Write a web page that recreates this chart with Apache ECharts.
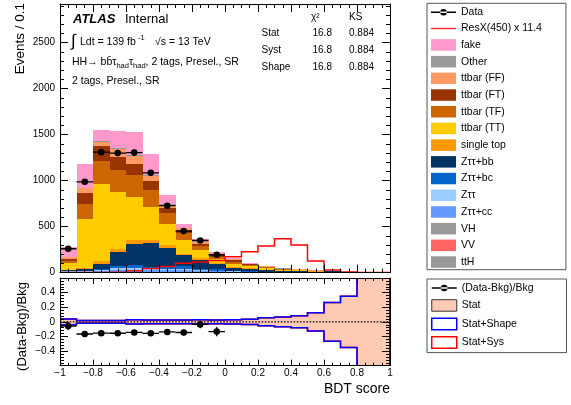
<!DOCTYPE html>
<html>
<head>
<meta charset="utf-8">
<title>BDT score</title>
<script src="https://cdn.jsdelivr.net/npm/echarts@6/dist/echarts.min.js"></script>
<style>
  html, body { margin: 0; padding: 0; background: #fff; }
  #chart { width: 571px; height: 405px; }
</style>
</head>
<body>
<div id="chart"></div>
<script>
// Histogram binning of the BDT score
const binEdges = [-1.0, -0.9, -0.8, -0.7, -0.6, -0.5, -0.4, -0.3, -0.2, -0.1, 0.0,
                  0.1, 0.2, 0.3, 0.4, 0.5, 0.6, 0.7, 0.8, 0.9, 1.0];

// Background yields per bin (events / 0.1)
const fake      = [103, 261, 119, 188, 247, 225, 102, 40, 26, 22, 8, 5, 4, 2, 1.5, 0.7, 0.1, 0, 0, 0];
const other     = [3, 6, 7, 7, 7, 7, 5, 4, 3, 3, 2, 1, 1, 1, 0.5, 0.3, 0.1, 0, 0, 0];
const ttbarFF   = [25, 55, 48, 84, 94, 58, 38, 21, 19, 10, 12, 6, 5, 3, 2, 1, 0.3, 0, 0, 0];
const ttbarFT   = [23, 120, 163, 145, 116, 98, 55, 36, 25, 20, 14, 8, 5, 4, 2, 1, 0.5, 0, 0, 0];
const ttbarTF   = [20, 159, 253, 236, 236, 182, 119, 73, 43, 21, 22, 12, 8, 5, 3, 2, 1, 0.1, 0.1, 0];
const ttbarTT   = [69, 530, 834, 622, 471, 362, 225, 152, 91, 40, 36, 24, 16, 11, 10, 6, 1, 0.3, 0.1, 0.1];
const singleTop = [6, 16, 36, 36, 43, 35, 29, 14, 18, 11, 7, 8, 6, 4, 3, 2, 1, 0.2, 0.1, 0.1];
const zttBB     = [5, 16, 54, 146, 228, 255, 207, 119, 93, 61, 33, 20, 16, 10, 9, 9, 12, 2.0, 0.6, 0.4];
const zttBC     = [7.5, 7.7, 13, 26.4, 29.6, 23, 23, 24.5, 16, 13.1, 7.8, 6.2, 4.3, 2.7, 2.1, 0.9, 1.4, 0.2, 0.1, 0.1];
const ztt       = [5.5, 5.5, 9.3, 19, 21, 16, 16, 17.5, 11, 9.3, 5.5, 4.5, 3, 2, 1.5, 0.8, 1, 0.1, 0.1, 0];
const zttCC     = [6.6, 6.6, 11, 23, 25, 19.5, 19.5, 21, 13.5, 11, 6.6, 5.4, 3.6, 2.4, 1.8, 0.9, 1.2, 0.2, 0.1, 0.1];
const vh        = [0.4, 0.4, 0.7, 1.5, 1.7, 1.3, 1.3, 1.4, 0.9, 0.7, 0.4, 0.4, 0.2, 0.2, 0.1, 0.1, 0.1, 0, 0, 0];
const vv        = [1.5, 1.3, 2.2, 4.6, 5.0, 3.9, 3.9, 4.2, 2.7, 2.2, 1.3, 1.1, 0.7, 0.5, 0.4, 0.2, 0.2, 0, 0, 0];
const ttH       = [0.5, 0.5, 0.8, 1.5, 1.7, 1.3, 1.3, 1.4, 0.9, 0.7, 0.4, 0.4, 0.2, 0.2, 0.1, 0.1, 0.1, 0, 0, 0];

// Observed data (bins above 0 are blinded)
const dataCounts = [260, 988, 1310, 1300, 1305, 1085, 728, 452, 350, 195];

// Signal ResX(450), scaled by 11.4
const signal = [2, 2, 3, 5, 20, 45, 68, 102, 116, 132, 174, 228, 290, 370, 301, 127, 29, 8, 3, 2];

// Relative uncertainty bands for the ratio panel
const statErr      = [0.04, 0.02, 0.018, 0.018, 0.03, 0.025, 0.025, 0.025, 0.03, 0.025, 0.03, 0.035, 0.055, 0.068, 0.082, 0.125, 0.265, 0.35, 0.9, 1.2];
const statShapeErr = [0.04, 0.02, 0.018, 0.018, 0.03, 0.025, 0.025, 0.025, 0.03, 0.025, 0.03, 0.035, 0.055, 0.068, 0.082, 0.125, 0.265, 0.35, 0.9, 1.2];
const statSysErr   = [0.04, 0.02, 0.018, 0.018, 0.03, 0.025, 0.025, 0.025, 0.03, 0.025, 0.03, 0.035, 0.055, 0.068, 0.082, 0.125, 0.265, 0.35, 0.9, 1.2];

// Stack order, bottom to top
const stackLayers = [
  ['ttH', ttH], ['VV', vv], ['VH', vh], ['Zττ+cc', zttCC], ['Zττ', ztt], ['Zττ+bc', zttBC],
  ['Zττ+bb', zttBB], ['single top', singleTop], ['ttbar (TT)', ttbarTT], ['ttbar (TF)', ttbarTF],
  ['ttbar (FT)', ttbarFT], ['ttbar (FF)', ttbarFF], ['Other', other], ['fake', fake]
];
const legendOrder = ['fake', 'Other', 'ttbar (FF)', 'ttbar (FT)', 'ttbar (TF)', 'ttbar (TT)', 'single top',
  'Zττ+bb', 'Zττ+bc', 'Zττ', 'Zττ+cc', 'VH', 'VV', 'ttH'];
const layerColors = {
  'fake': '#ff99cc', 'Other': '#999999', 'ttbar (FF)': '#ff9966', 'ttbar (FT)': '#993300',
  'ttbar (TF)': '#cc6600', 'ttbar (TT)': '#ffcc00', 'single top': '#ff9900', 'Zττ+bb': '#003366',
  'Zττ+bc': '#0066cc', 'Zττ': '#99ccff', 'Zττ+cc': '#6699ff', 'VH': '#999999', 'VV': '#ff6666', 'ttH': '#999999'
};

const FONT = '"Liberation Sans", Arial, Helvetica, sans-serif';
const nBins = binEdges.length - 1;
const signalName = 'ResX(450) x 11.4';
const ratioName = '(Data-Bkg)/Bkg';
const statFill = '#ffcab4';

// Cumulative stack
const totals = new Array(nBins).fill(0);
const stackSeries = stackLayers.map(([name, values]) => {
  const items = values.map((v, i) => {
    const lo = totals[i];
    totals[i] += v;
    return [binEdges[i], binEdges[i + 1], lo, totals[i]];
  });
  const color = layerColors[name];
  return {
    type: 'custom', name, xAxisIndex: 0, yAxisIndex: 0, z: 2, silent: true, clip: true,
    itemStyle: { color },
    encode: { x: [0, 1], y: [2, 3] },
    data: items,
    renderItem: (params, api) => {
      const a = api.coord([api.value(0), api.value(3)]);
      const b = api.coord([api.value(1), api.value(2)]);
      const x0 = Math.round(a[0]), x1 = Math.round(b[0]);
      const y0 = Math.round(a[1]), y1 = Math.round(b[1]);
      if (y1 - y0 <= 0) return null;
      return { type: 'rect', shape: { x: x0, y: y0, width: x1 - x0, height: y1 - y0 }, style: { fill: color } };
    }
  };
});

const dataItems = dataCounts.map((n, i) => [(binEdges[i] + binEdges[i + 1]) / 2, n, Math.sqrt(n), binEdges[i], binEdges[i + 1]]);
const ratioItems = dataCounts.map((n, i) => [(binEdges[i] + binEdges[i + 1]) / 2, n / totals[i] - 1, Math.sqrt(n) / totals[i], binEdges[i], binEdges[i + 1]]);

function renderPoint(params, api) {
  const xc = api.value(0), y = api.value(1), e = api.value(2);
  const pl = api.coord([api.value(3), y]), pr = api.coord([api.value(4), y]);
  const pt = api.coord([xc, y + e]), pb = api.coord([xc, y - e]);
  const pc = api.coord([xc, y]);
  const st = { stroke: '#000', lineWidth: 1.3 };
  return {
    type: 'group', children: [
      { type: 'line', shape: { x1: pl[0], y1: pl[1], x2: pr[0], y2: pr[1] }, style: st },
      { type: 'line', shape: { x1: pt[0], y1: pt[1], x2: pb[0], y2: pb[1] }, style: st },
      { type: 'circle', shape: { cx: pc[0], cy: pc[1], r: 3.3 }, style: { fill: '#000' } }
    ]
  };
}

// Closed step outline of a symmetric band around zero
function bandOutline(errs, stroke, z, name) {
  return {
    type: 'custom', name, xAxisIndex: 2, yAxisIndex: 2, z, silent: true, clip: true,
    itemStyle: { color: stroke },
    encode: { x: 0, y: 1 }, data: [[binEdges[0], 0]],
    renderItem: (params, api) => {
      const top = [], bot = [];
      for (let i = 0; i < nBins; i++) {
        top.push(api.coord([binEdges[i], errs[i]]), api.coord([binEdges[i + 1], errs[i]]));
        bot.push(api.coord([binEdges[i], -errs[i]]), api.coord([binEdges[i + 1], -errs[i]]));
      }
      return { type: 'polygon', shape: { points: top.concat(bot.reverse()) }, style: { fill: null, stroke, lineWidth: 1.5 } };
    }
  };
}

const fmtNum = v => String(Math.round(v * 10) / 10).replace('-', '\u2212');

function xAxisCfg(gridIndex, position, showLabels, tickLen) {
  return {
    type: 'value', gridIndex, position, min: -1, max: 1, interval: 0.2, z: 10,
    axisLine: { show: true, onZero: false, lineStyle: { color: '#000', width: 1 } },
    axisTick: { show: true, inside: true, length: tickLen, lineStyle: { color: '#000', width: 1 } },
    minorTick: { show: true, splitNumber: 4, length: tickLen / 2, lineStyle: { color: '#000', width: 1 } },
    axisLabel: { show: showLabels, formatter: fmtNum, fontSize: 10, fontFamily: FONT, color: '#000', margin: 3 },
    splitLine: { show: false }, minorSplitLine: { show: false }
  };
}
function yAxisCfg(gridIndex, position, showLabels, min, max, interval, minorSplit, formatter) {
  return {
    type: 'value', gridIndex, position, min, max, interval, z: 10,
    axisLine: { show: true, onZero: false, lineStyle: { color: '#000', width: 1 } },
    axisTick: { show: true, inside: true, length: 8, lineStyle: { color: '#000', width: 1 } },
    minorTick: { show: true, splitNumber: minorSplit, length: 4, lineStyle: { color: '#000', width: 1 } },
    axisLabel: { show: showLabels, formatter, fontSize: 10, fontFamily: FONT, color: '#000', margin: 5, showMaxLabel: false },
    splitLine: { show: false }, minorSplitLine: { show: false }
  };
}

const dataIcon = 'path://M0,5.3h25v1.4h-25z M9.2,6a3.3,3.3 0 1 0 6.6,0a3.3,3.3 0 1 0 -6.6,0z';
const lineIcon = 'path://M0,0h25v1.3h-25z';
const legendText = { fontSize: 10.5, fontFamily: FONT, color: '#000' };

function txt(x, y, text, size, extra, rotation) {
  return {
    type: 'text', x, y, rotation: rotation || 0, silent: true, z: 20,
    style: Object.assign({ text, fontSize: size, fontFamily: FONT, fill: '#000', align: 'left', verticalAlign: 'middle' }, extra || {})
  };
}

const option = {
  animation: false,
  backgroundColor: '#fff',
  grid: [
    { left: 60, top: 4, width: 330, height: 268.7, containLabel: false, outerBoundsMode: 'none' },
    { left: 60, top: 278, width: 330, height: 87.7, containLabel: false, outerBoundsMode: 'none' }
  ],
  xAxis: [
    xAxisCfg(0, 'bottom', false, 8),
    xAxisCfg(0, 'top', false, 8),
    xAxisCfg(1, 'bottom', true, 6),
    xAxisCfg(1, 'top', false, 6)
  ],
  yAxis: [
    yAxisCfg(0, 'left', true, 0, 2920, 500, 5, v => String(v)),
    yAxisCfg(0, 'right', false, 0, 2920, 500, 5, v => String(v)),
    yAxisCfg(1, 'left', true, -0.6, 0.6, 0.2, 5, v => (Math.abs(v) > 0.5 ? '' : fmtNum(v))),
    yAxisCfg(1, 'right', false, -0.6, 0.6, 0.2, 5, v => '')
  ],
  legend: [
    {
      orient: 'vertical', left: 427, top: 3.3, itemWidth: 25, itemHeight: 11.5, itemGap: 5.2,
      padding: [3.5, 24, 1.9, 4], borderColor: '#555', borderWidth: 1, backgroundColor: '#fff',
      selectedMode: false, textStyle: legendText, z: 20,
      data: [
        { name: 'Data', icon: dataIcon, itemStyle: { color: '#000', borderWidth: 0 } },
        { name: signalName, icon: lineIcon, itemStyle: { color: '#ff2020', borderWidth: 0 } }
      ].concat(legendOrder.map(n => ({ name: n, icon: 'rect', itemStyle: { color: layerColors[n], borderWidth: 0 } })))
    },
    {
      orient: 'vertical', left: 427, top: 279, itemWidth: 25, itemHeight: 11.5, itemGap: 5.7,
      padding: [3.5, 33, 3.5, 4], borderColor: '#555', borderWidth: 1, backgroundColor: '#fff',
      selectedMode: false, textStyle: legendText, z: 20,
      data: [
        { name: ratioName, icon: dataIcon, itemStyle: { color: '#000', borderWidth: 0 } },
        { name: 'Stat', icon: 'rect', itemStyle: { color: statFill, borderColor: '#333', borderWidth: 1 } },
        { name: 'Stat+Shape', icon: 'rect', itemStyle: { color: '#fff', borderColor: '#0000ff', borderWidth: 1.5 } },
        { name: 'Stat+Sys', icon: 'rect', itemStyle: { color: '#fff', borderColor: '#ff0000', borderWidth: 1.5 } }
      ]
    }
  ],
  series: stackSeries.concat([
    {
      type: 'custom', name: signalName, xAxisIndex: 0, yAxisIndex: 0, z: 3, silent: true, clip: true,
      itemStyle: { color: '#ff0000' },
      encode: { x: 0, y: 1 }, data: [[binEdges[0], signal[0]]],
      renderItem: (params, api) => {
        const pts = [];
        for (let i = 0; i < nBins; i++) {
          pts.push(api.coord([binEdges[i], signal[i]]), api.coord([binEdges[i + 1], signal[i]]));
        }
        return { type: 'polyline', shape: { points: pts }, style: { fill: null, stroke: '#ff0000', lineWidth: 1.5 } };
      }
    },
    {
      type: 'custom', name: 'Data', xAxisIndex: 0, yAxisIndex: 0, z: 4, silent: true, clip: true,
      itemStyle: { color: '#000' },
      encode: { x: [0, 3, 4], y: 1 }, data: dataItems, renderItem: renderPoint
    },
    {
      type: 'custom', name: 'Stat', xAxisIndex: 2, yAxisIndex: 2, z: 2, silent: true, clip: true,
      itemStyle: { color: statFill },
      encode: { x: [0, 1], y: 2 },
      data: statErr.map((e, i) => [binEdges[i], binEdges[i + 1], e]),
      renderItem: (params, api) => {
        const a = api.coord([api.value(0), api.value(2)]);
        const b = api.coord([api.value(1), -api.value(2)]);
        return { type: 'rect', shape: { x: Math.round(a[0]), y: a[1], width: Math.round(b[0]) - Math.round(a[0]), height: b[1] - a[1] }, style: { fill: statFill } };
      }
    },
    bandOutline(statSysErr, '#ff0000', 3, 'Stat+Sys'),
    bandOutline(statShapeErr, '#0000ff', 4, 'Stat+Shape'),
    {
      type: 'custom', name: 'zero', xAxisIndex: 2, yAxisIndex: 2, z: 5, silent: true,
      encode: { x: 0, y: 1 }, data: [[0, 0]],
      renderItem: (params, api) => {
        const p0 = api.coord([-1, 0]), p1 = api.coord([1, 0]);
        return { type: 'line', shape: { x1: p0[0], y1: p0[1], x2: p1[0], y2: p1[1] }, style: { stroke: '#000', lineWidth: 1.2, lineDash: [1.6, 1.6] } };
      }
    },
    {
      type: 'custom', name: ratioName, xAxisIndex: 2, yAxisIndex: 2, z: 6, silent: true, clip: true,
      itemStyle: { color: '#000' },
      encode: { x: [0, 3, 4], y: 1 }, data: ratioItems, renderItem: renderPoint
    }
  ]),
  graphic: [
    txt(20, 3, 'Events / 0.1', 13.5, { align: 'right' }, Math.PI / 2),
    txt(22, 326.5, '(Data-Bkg)/Bkg', 13, { align: 'center' }, Math.PI / 2),
    txt(390, 389, 'BDT score', 14, { align: 'right' }),
    txt(73, 19.5, 'ATLAS', 13, { fontWeight: 'bold', fontStyle: 'italic' }),
    txt(125, 19.5, 'Internal', 13),
    txt(71, 41.5, '\u222B', 17),
    txt(80, 42, 'Ldt = 139 fb', 10.5),
    txt(138, 38, '-1', 7.5),
    txt(155, 42, '\u221As = 13 TeV', 10.5),
    {
      type: 'text', x: 72, y: 62.5, silent: true, z: 20,
      style: {
        text: '{n|HH\u2192 bb\u0304\u03C4}{s|had}{n|\u03C4}{s|had}{n|, 2 tags, Presel., SR}',
        verticalAlign: 'middle', align: 'left',
        rich: {
          n: { fontSize: 10.5, fontFamily: FONT, fill: '#000', lineHeight: 14, verticalAlign: 'middle' },
          s: { fontSize: 7.5, fontFamily: FONT, fill: '#000', lineHeight: 7, verticalAlign: 'bottom' }
        }
      }
    },
    txt(72, 81, '2 tags, Presel., SR', 10.5),
    txt(311, 17, '\u03C7\u00B2', 10),
    txt(349, 17, 'KS', 10),
    txt(261.5, 33.5, 'Stat', 10),
    txt(261.5, 50.5, 'Syst', 10),
    txt(261.5, 67, 'Shape', 10),
    txt(312.5, 33.5, '16.8', 10), txt(349, 33.5, '0.884', 10),
    txt(312.5, 50.5, '16.8', 10), txt(349, 50.5, '0.884', 10),
    txt(312.5, 67, '16.8', 10), txt(349, 67, '0.884', 10)
  ]
};

const chart = echarts.init(document.getElementById('chart'), null, { renderer: 'canvas' });
chart.setOption(option);
</script>
</body>
</html>
